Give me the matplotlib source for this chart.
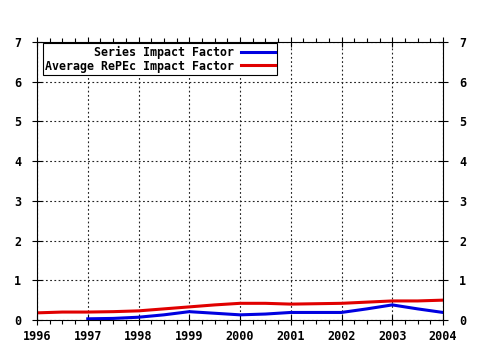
import numpy as np
import matplotlib
matplotlib.use("Agg")
import matplotlib.pyplot as plt
from matplotlib.ticker import MultipleLocator

years_series = [1997, 1997.5, 1998, 1998.5, 1999, 1999.5, 2000, 2000.5, 2001, 2001.5, 2002, 2002.5, 2003, 2003.5, 2004]
series_if = [0.03, 0.04, 0.07, 0.13, 0.21, 0.17, 0.13, 0.15, 0.19, 0.19, 0.19, 0.28, 0.38, 0.28, 0.19]

years_avg = [1996, 1996.5, 1997, 1997.5, 1998, 1998.5, 1999, 1999.5, 2000, 2000.5, 2001, 2001.5, 2002, 2002.5, 2003, 2003.5, 2004]
avg_if = [0.18, 0.2, 0.2, 0.21, 0.23, 0.28, 0.33, 0.38, 0.42, 0.42, 0.40, 0.41, 0.42, 0.45, 0.48, 0.48, 0.5]

year_ticks = list(range(1996, 2005))
y_ticks = list(range(0, 8))

plt.rcParams['font.family'] = ['DejaVu Sans Mono']
plt.rcParams['font.weight'] = 'bold'

fig = plt.figure(figsize=(4.8, 3.5), dpi=100)
ax = fig.add_axes([37/480, 30/350, 406/480, 278/350])

ax.plot(years_series, series_if, color='#0000e0', lw=2.2, label='Series Impact Factor')
ax.plot(years_avg, avg_if, color='#e00000', lw=2.2, label='Average RePEc Impact Factor')

ax.set_xlim(1996, 2004)
ax.set_ylim(0, 7)
ax.set_xticks(year_ticks)
ax.set_xticklabels([str(y) for y in year_ticks])
ax.set_yticks(y_ticks)
ax.xaxis.set_minor_locator(MultipleLocator(0.25))
ax.grid(True, which='major', color='#222222', linestyle=(0, (1.6, 2.2)), linewidth=0.8)

ax.tick_params(which='major', direction='inout', length=7, width=0.8, labelsize=8.5,
               top=True, right=True, labelright=True, pad=4)
ax.tick_params(which='minor', direction='out', length=3, width=0.8, top=True, bottom=True)
ax.tick_params(axis='y', which='major', pad=8)
ax.tick_params(axis='y', which='minor', left=False, right=False)
for s in ax.spines.values():
    s.set_linewidth(0.8)

leg = ax.legend(loc='upper left', bbox_to_anchor=(0.015, 0.995), markerfirst=False,
                frameon=True, fancybox=False, edgecolor='black', framealpha=1,
                prop={'size': 8.4, 'weight': 'bold'}, handlelength=2.95,
                handletextpad=0.55, labelspacing=0.08, borderpad=0.18, borderaxespad=0)
leg.get_frame().set_linewidth(0.8)

fig.savefig('out.png', dpi=100)
